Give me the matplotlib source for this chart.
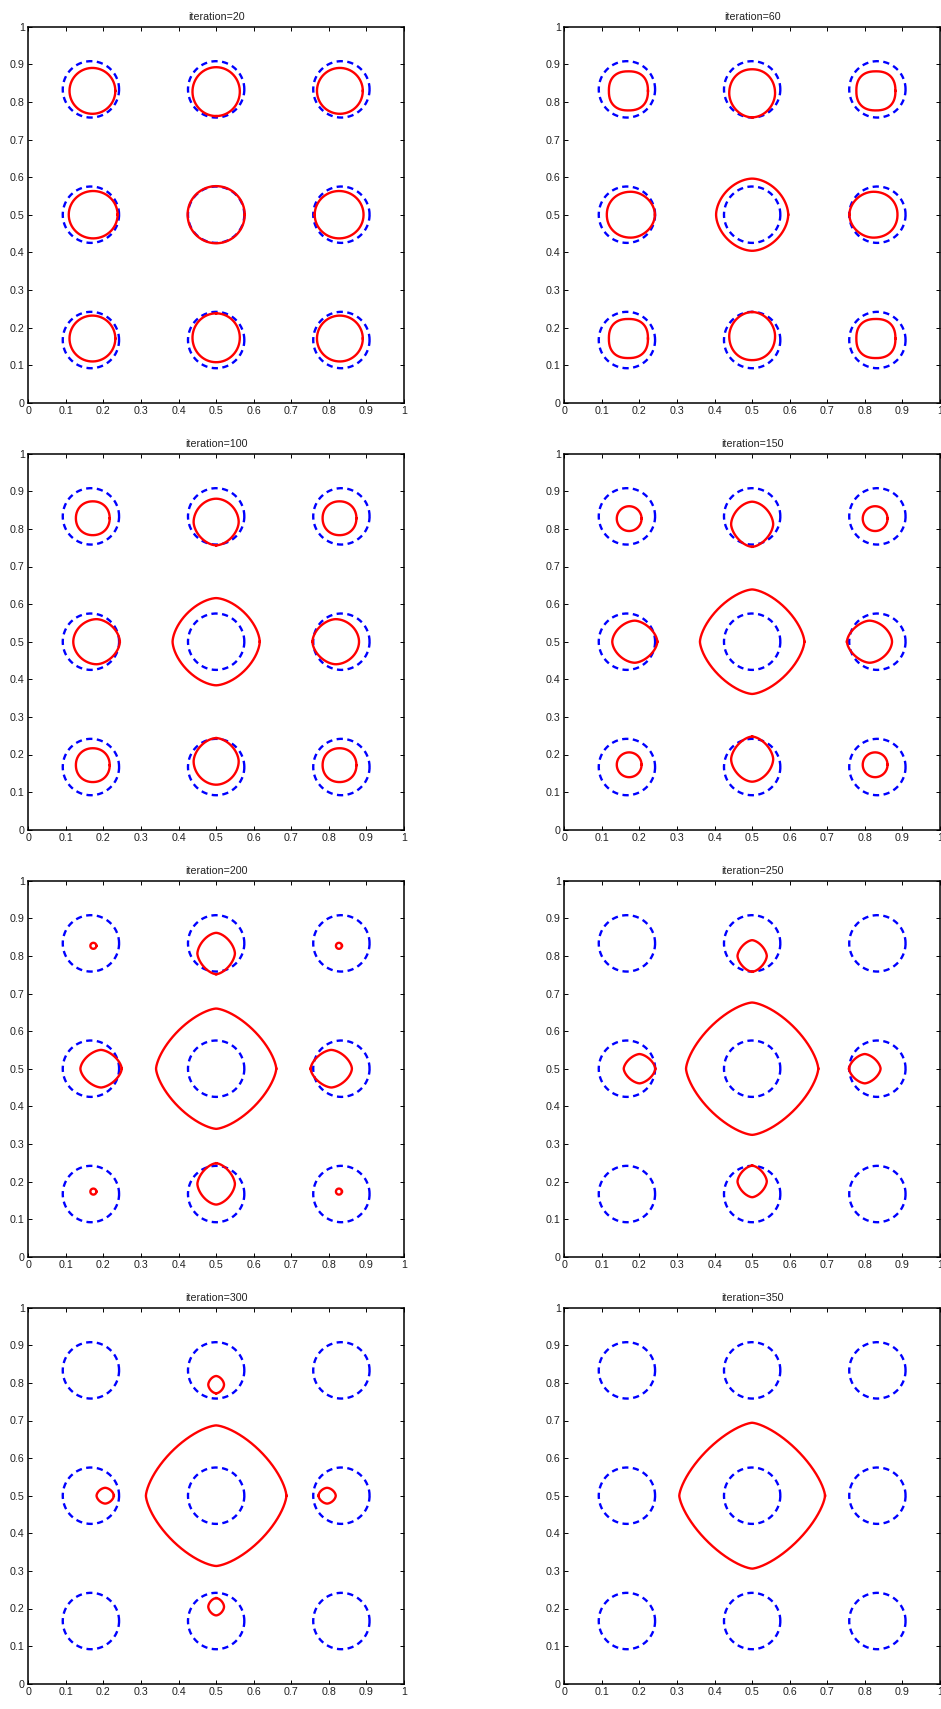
import numpy as np
import matplotlib
matplotlib.use("Agg")
import matplotlib.pyplot as plt

plt.rcParams["font.family"] = ["Liberation Sans", "DejaVu Sans"]
plt.rcParams["lines.scale_dashes"] = False

# ---------------- data ----------------
iterations = [20, 60, 100, 150, 200, 250, 300, 350]

# blue dashed initial circles (3x3 lattice)
seed_centers = [1 / 6, 1 / 2, 5 / 6]
seed_radius = 0.075

# central red contour: vertex distance and superellipse exponent
center_r = [0.076, 0.096, 0.116, 0.139, 0.160, 0.176, 0.187, 0.194]
center_p = [2.0, 1.8, 1.65, 1.55, 1.5, 1.5, 1.5, 1.45]

# edge contours (left/right/top/bottom middle): shift towards centre,
# radial half-extent, perpendicular half-extent, exponents (inner / outer half)
edge_shift = [0.006, 0.0105, 0.015, 0.021, 0.027, 0.0335, 0.038, 0.0]
edge_radial = [0.065, 0.064, 0.062, 0.060, 0.055, 0.042, 0.023, 0.0]
edge_perp = [0.063, 0.061, 0.060, 0.056, 0.050, 0.039, 0.021, 0.0]
edge_p_inner = [2.0, 1.9, 1.75, 1.65, 1.6, 1.6, 1.7, 2.0]
edge_p_outer = [2.0, 2.1, 1.9, 1.75, 1.65, 1.6, 1.7, 2.0]

# corner contours: radius, shift towards centre (per axis), exponent
corner_r = [0.061, 0.052, 0.045, 0.033, 0.008, 0.0, 0.0, 0.0]
corner_shift = [0.004, 0.004, 0.005, 0.006, 0.0065, 0.0, 0.0, 0.0]
corner_p = [2.0, 2.4, 2.1, 2.0, 2.0, 2.0, 2.0, 2.0]

tick_values = [0, 0.1, 0.2, 0.3, 0.4, 0.5, 0.6, 0.7, 0.8, 0.9, 1.0]
tick_labels = ["0", "0.1", "0.2", "0.3", "0.4", "0.5", "0.6", "0.7", "0.8", "0.9", "1"]

RED = "#ff0000"
BLUE = "#0000ff"
LW = 1.7
FS = 7.7


def superellipse(a_pos, a_neg, b, p_pos, p_neg, n=500):
    t = np.linspace(0, 2 * np.pi, n)
    c, s = np.cos(t), np.sin(t)
    p = np.where(c >= 0, p_pos, p_neg)
    a = np.where(c >= 0, a_pos, a_neg)
    u = a * np.sign(c) * np.abs(c) ** (2 / p)
    v = b * np.sign(s) * np.abs(s) ** (2 / p)
    return u, v


W, H = 941, 1709
fig = plt.figure(figsize=(W / 100, H / 100), dpi=100)

ax_w = 375.7 / W
ax_h = 376.0 / H
lefts = [28.3 / W, 564.3 / W]

for k, it in enumerate(iterations):
    row, col = divmod(k, 2)
    bottom = 1 - (402.7 + 427 * row) / H
    ax = fig.add_axes([lefts[col], bottom, ax_w, ax_h])

    # blue dashed circles
    th = np.linspace(0, 2 * np.pi, 400)
    for cx in seed_centers:
        for cy in seed_centers:
            ax.plot(cx + seed_radius * np.cos(th), cy + seed_radius * np.sin(th),
                    color=BLUE, lw=LW, dashes=[4.5, 3.2], dash_capstyle="butt")

    mid = seed_centers[1]
    # central contour
    u, v = superellipse(center_r[k], center_r[k], center_r[k], center_p[k], center_p[k])
    ax.plot(mid + u, mid + v, color=RED, lw=LW)

    # edge contours
    if edge_radial[k] > 0:
        for (bx, by) in [(seed_centers[0], mid), (seed_centers[2], mid),
                         (mid, seed_centers[0]), (mid, seed_centers[2])]:
            dx, dy = np.sign(mid - bx), np.sign(mid - by)
            px_, py_ = -dy, dx
            sx, sy = bx + edge_shift[k] * dx, by + edge_shift[k] * dy
            u, v = superellipse(edge_radial[k], edge_radial[k], edge_perp[k],
                                edge_p_inner[k], edge_p_outer[k])
            ax.plot(sx + u * dx + v * px_, sy + u * dy + v * py_, color=RED, lw=LW)

    # corner contours
    if corner_r[k] > 0:
        for bx in (seed_centers[0], seed_centers[2]):
            for by in (seed_centers[0], seed_centers[2]):
                sx = bx + corner_shift[k] * np.sign(mid - bx)
                sy = by + corner_shift[k] * np.sign(mid - by)
                u, v = superellipse(corner_r[k], corner_r[k], corner_r[k],
                                    corner_p[k], corner_p[k])
                ax.plot(sx + u, sy + v, color=RED, lw=LW)

    ax.set_xlim(0, 1)
    ax.set_ylim(0, 1)
    ax.set_xticks(tick_values)
    ax.set_xticklabels(tick_labels)
    ax.set_yticks(tick_values)
    ax.set_yticklabels(tick_labels)
    ax.tick_params(direction="in", length=3, width=0.7, labelsize=FS, pad=2.5,
                   top=True, right=True, colors="black", labelcolor="#222222")
    for sp in ax.spines.values():
        sp.set_linewidth(1.1)
        sp.set_color("black")
    ax.set_title(f"iteration={it}", fontsize=FS, pad=5, color="#222222")

fig.savefig("out.png", dpi=100)
